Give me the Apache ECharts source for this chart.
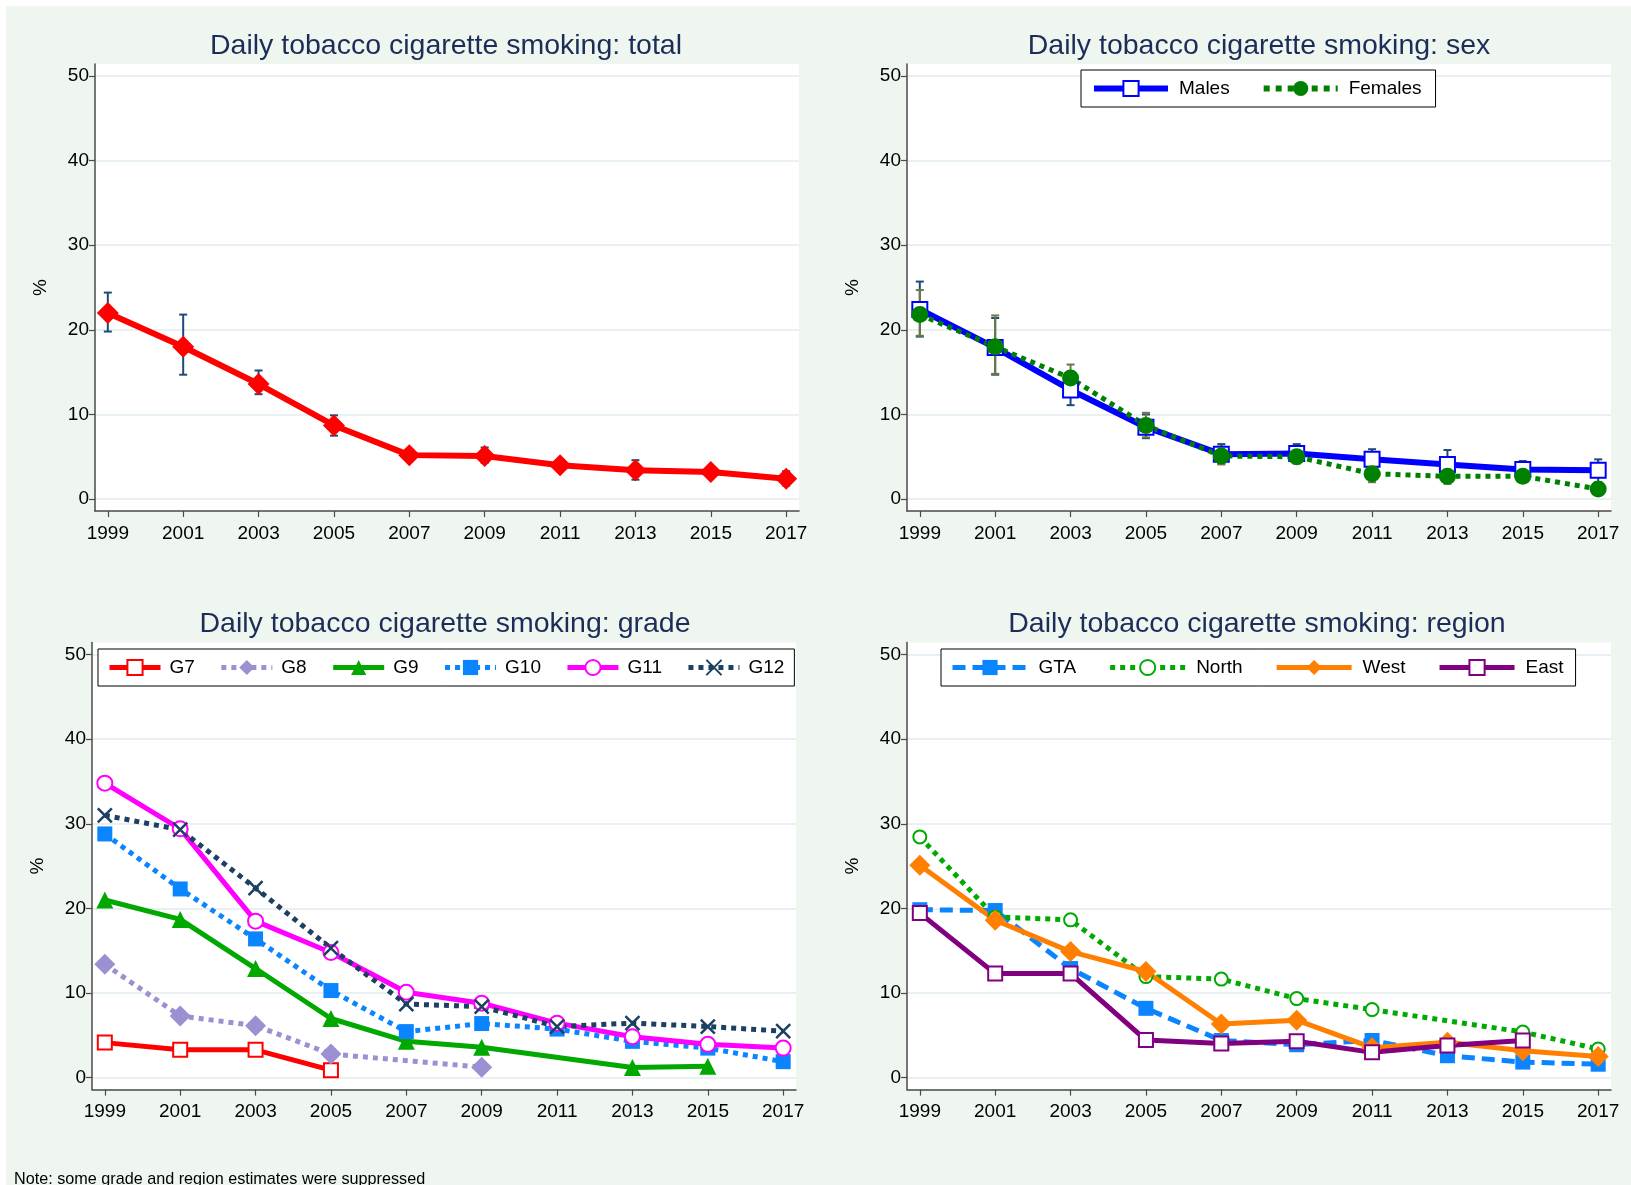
<!DOCTYPE html>
<html><head><meta charset="utf-8">
<script src="https://cdn.jsdelivr.net/npm/echarts@6/dist/echarts.min.js"></script>
<style>html,body{margin:0;padding:0;background:#fff}#c{width:1631px;height:1185px}</style>
</head><body><div id="c"></div>
<script>
// ---------- data ----------
const years = [1999, 2001, 2003, 2005, 2007, 2009, 2011, 2013, 2015, 2017];
const yTicks = [0, 10, 20, 30, 40, 50];

const total     = [22.0, 18.0, 13.6, 8.7, 5.2, 5.1, 4.0, 3.4, 3.2, 2.4];
const totalLow  = [19.8, 14.7, 12.4, 7.5, 4.6, 4.3, 3.4, 2.3, 2.6, 1.6];
const totalHigh = [24.4, 21.8, 15.2, 9.9, 5.9, 6.1, 4.6, 4.6, 3.8, 3.3];

const males      = [22.4, 17.9, 12.9, 8.5, 5.3, 5.4, 4.7, 4.1, 3.5, 3.4];
const malesLow   = [19.2, 14.7, 11.1, 7.2, 4.2, 4.4, 3.6, 2.6, 2.6, 2.0];
const malesHigh  = [25.7, 21.4, 14.8, 10.0, 6.5, 6.5, 5.9, 5.8, 4.5, 4.7];
const females    = [21.8, 18.0, 14.3, 8.7, 5.1, 5.0, 3.0, 2.7, 2.7, 1.2];
const femalesLow = [19.3, 14.8, 12.8, 7.3, 4.1, 4.2, 2.0, 1.8, 2.0, 0.7];
const femalesHigh= [24.7, 21.7, 15.9, 10.2, 6.2, 6.0, 4.3, 3.8, 3.5, 1.8];

const g7  = [4.15, 3.3, 3.3, 0.9, null, null, null, null, null, null];
const g8  = [13.4, 7.3, 6.15, 2.8, null, 1.25, null, null, null, null];
const g9  = [21.0, 18.7, 12.9, 7.0, 4.3, 3.6, null, 1.2, 1.35, null];
const g10 = [28.8, 22.3, 16.4, 10.3, 5.45, 6.4, 5.75, 4.3, 3.5, 1.9];
const g11 = [34.8, 29.4, 18.5, 14.8, 10.1, 8.8, 6.45, 4.85, 3.95, 3.5];
const g12 = [31.0, 29.3, 22.4, 15.3, 8.7, 8.4, 6.05, 6.45, 6.05, 5.5];

const gta   = [19.85, 19.75, 12.9, 8.2, 4.4, 3.9, 4.4, 2.6, 1.85, 1.6];
const north = [28.45, 19.0, 18.65, 11.95, 11.65, 9.35, 8.05, null, 5.4, 3.4];
const west  = [25.1, 18.6, 14.9, 12.55, 6.35, 6.8, 3.55, 4.2, 3.2, 2.5];
const east  = [19.45, 12.3, 12.3, 4.45, 4.05, 4.3, 3.0, 3.8, 4.4, null];

const titles = [
  'Daily tobacco cigarette smoking: total',
  'Daily tobacco cigarette smoking: sex',
  'Daily tobacco cigarette smoking: grade',
  'Daily tobacco cigarette smoking: region'
];
const noteText = 'Note: some grade and region estimates were suppressed';

// ---------- helpers ----------
const FONT = '"Liberation Sans", Arial, sans-serif';
const pts = arr => years.map((y, i) => [y, arr[i]]).filter(p => p[1] != null);

const grids = [
  {left: 95,  top: 64,    width: 704, height: 447},
  {left: 907, top: 64,    width: 704, height: 447},
  {left: 92,  top: 642.6, width: 704, height: 447},
  {left: 907, top: 642.6, width: 704, height: 447}
];

function xAx(gi) {
  return {
    type: 'value', gridIndex: gi, min: 1998.66, max: 2017.34,
    axisLine: {show: true, onZero: false, lineStyle: {color: '#4a4a4a', width: 1.5}},
    axisTick: {show: true, length: 6, customValues: years, lineStyle: {color: '#4a4a4a', width: 1.2}},
    axisLabel: {customValues: years, fontSize: 19, color: '#000', fontFamily: FONT, margin: 13,
                formatter: v => String(Math.round(v))},
    splitLine: {show: false}
  };
}
function yAx(gi) {
  return {
    type: 'value', gridIndex: gi, min: -1.4, max: 51.4,
    name: '%', nameLocation: 'middle', nameGap: 45,
    nameTextStyle: {fontSize: 19, color: '#000', fontFamily: FONT},
    axisLine: {show: true, lineStyle: {color: '#4a4a4a', width: 1.5}},
    axisTick: {show: true, length: 6, customValues: yTicks, lineStyle: {color: '#4a4a4a', width: 1.2}},
    axisLabel: {customValues: yTicks, fontSize: 19, color: '#000', fontFamily: FONT, margin: 6},
    splitLine: {show: true, lineStyle: {color: '#e9f0f2', width: 2}}
  };
}
function line(name, arr, gi, color, opts) {
  const o = opts || {};
  return {
    name: name, type: 'line', xAxisIndex: gi, yAxisIndex: gi, z: 3,
    data: pts(arr), connectNulls: true, animation: false,
    symbol: o.symbol || 'circle', symbolSize: o.size || 14,
    lineStyle: {color: color, width: o.width || 5, type: o.type || 'solid'},
    itemStyle: o.hollow
      ? {color: '#fff', borderColor: color, borderWidth: o.bw || 2}
      : (o.stroke ? {color: color, borderColor: color, borderWidth: o.bw || 2.5} : {color: color, borderWidth: 0}),
    emphasis: {disabled: true}
  };
}
function errs(low, high, gi, color) {
  return {
    type: 'custom', xAxisIndex: gi, yAxisIndex: gi, z: 2, silent: true, animation: false,
    data: years.map((y, i) => [y, low[i], high[i]]),
    renderItem: (params, api) => {
      const x = api.value(0);
      const p1 = api.coord([x, api.value(1)]);
      const p2 = api.coord([x, api.value(2)]);
      const hw = 4, st = {stroke: color, lineWidth: 2};
      return {type: 'group', children: [
        {type: 'line', shape: {x1: p1[0], y1: p1[1], x2: p2[0], y2: p2[1]}, style: st},
        {type: 'line', shape: {x1: p1[0] - hw, y1: p1[1], x2: p1[0] + hw, y2: p1[1]}, style: st},
        {type: 'line', shape: {x1: p2[0] - hw, y1: p2[1], x2: p2[0] + hw, y2: p2[1]}, style: st}
      ]};
    }
  };
}
function legend(names, left, top, opts) {
  return {
    data: names, left: left, top: top, orient: 'horizontal',
    itemWidth: opts.iw, itemHeight: 19, itemGap: opts.gap,
    padding: opts.pad, borderColor: '#000', borderWidth: 1, backgroundColor: '#fff',
    borderRadius: 0, selectedMode: false,
    lineStyle: {width: opts.lw || 5},
    textStyle: {fontSize: 19, color: '#000', fontFamily: FONT, padding: [0, 0, 0, opts.tp]}
  };
}

const XMARK = 'path://M0 0 L10 10 M10 0 L0 10';
const NAVY_CI = '#1f4a78';
const OLIVE_CI = '#6b7a45';

const series = [
  // panel 1
  errs(totalLow, totalHigh, 0, NAVY_CI),
  line('Total', total, 0, '#ff0000', {symbol: 'diamond', size: 22, width: 6}),
  // panel 2
  errs(malesLow, malesHigh, 1, NAVY_CI),
  errs(femalesLow, femalesHigh, 1, OLIVE_CI),
  line('Males', males, 1, '#0000ff', {symbol: 'rect', size: 15, width: 6, hollow: true, bw: 2}),
  line('Females', females, 1, '#008000', {symbol: 'circle', size: 17, width: 5, type: 'dotted'}),
  // panel 3
  line('G7', g7, 2, '#ff0000', {symbol: 'rect', size: 14, width: 5, hollow: true}),
  line('G8', g8, 2, '#9a90d2', {symbol: 'diamond', size: 21, width: 5, type: 'dotted'}),
  line('G9', g9, 2, '#00a800', {symbol: 'triangle', size: 17, width: 5}),
  line('G10', g10, 2, '#0a84ff', {symbol: 'rect', size: 15, width: 5, type: 'dotted'}),
  line('G11', g11, 2, '#ff00ff', {symbol: 'circle', size: 15, width: 5, hollow: true}),
  line('G12', g12, 2, '#1c3f63', {symbol: XMARK, size: 14, width: 5, type: 'dotted', stroke: true}),
  // panel 4
  line('GTA', gta, 3, '#0a84ff', {symbol: 'rect', size: 15, width: 5, type: [13, 7]}),
  line('North', north, 3, '#00aa00', {symbol: 'circle', size: 13, width: 5, type: 'dotted', hollow: true}),
  line('West', west, 3, '#ff8000', {symbol: 'diamond', size: 21, width: 5}),
  line('East', east, 3, '#800080', {symbol: 'rect', size: 14, width: 5, hollow: true})
];

const graphics = [
  {type: 'rect', shape: {x: 0, y: 0, width: 1631, height: 6}, style: {fill: '#fff'}, silent: true},
  {type: 'rect', shape: {x: 0, y: 0, width: 6, height: 1185}, style: {fill: '#fff'}, silent: true}
];
const titlePos = [[446, 46], [1259, 46], [445, 624], [1257, 624]];
titles.forEach((t, i) => graphics.push({
  type: 'text', x: titlePos[i][0], y: titlePos[i][1], silent: true,
  style: {text: t, fontSize: 28.5, fontFamily: FONT, fill: '#1c2d58', align: 'center', verticalAlign: 'middle'}
}));
graphics.push({
  type: 'text', x: 14, y: 1180, silent: true,
  style: {text: noteText, fontSize: 16.2, fontFamily: FONT, fill: '#000', align: 'left', verticalAlign: 'middle'}
});

const option = {
  backgroundColor: '#eff6f0',
  animation: false,
  grid: grids.map(g => Object.assign({show: true, backgroundColor: '#fff', borderWidth: 0, containLabel: false}, g)),
  xAxis: [0, 1, 2, 3].map(xAx),
  yAxis: [0, 1, 2, 3].map(yAx),
  legend: [
    legend(['Males', 'Females'], 1081, 70, {iw: 74, gap: 31, pad: [9, 14, 9, 10], tp: 6, lw: 6}),
    legend(['G7', 'G8', 'G9', 'G10', 'G11', 'G12'], 98, 649, {iw: 51, gap: 24, pad: [9, 10, 9, 9], tp: 4}),
    legend(['GTA', 'North', 'West', 'East'], 941, 649, {iw: 75, gap: 31.5, pad: [9, 12, 9, 9], tp: 6})
  ],
  series: series,
  graphic: graphics
};

const chart = echarts.init(document.getElementById('c'), null, {renderer: 'canvas'});
chart.setOption(option);
</script>
</body></html>
